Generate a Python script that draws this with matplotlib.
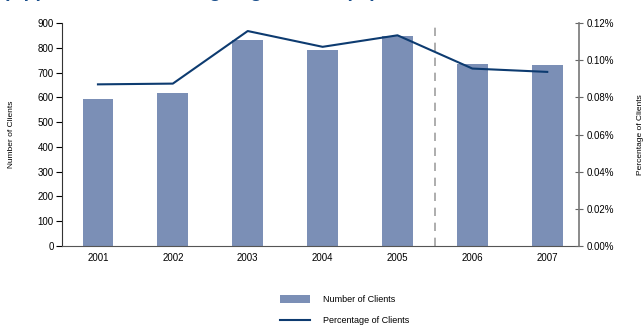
import numpy as np
import matplotlib
matplotlib.use("Agg")
import matplotlib.pyplot as plt
from matplotlib.ticker import FuncFormatter

plt.rcParams['font.family'] = ['Liberation Sans Narrow', 'Liberation Sans', 'DejaVu Sans']

# Clients by year
years = ['2001', '2002', '2003', '2004', '2005', '2006', '2007']
num_clients = [595, 619, 830, 793, 846, 733, 729]
pct_clients = [0.0870, 0.0874, 0.1157, 0.1072, 0.1134, 0.0955, 0.0937]  # percent

bar_color = '#7b8fb6'
line_color = '#0d3b70'

fig = plt.figure(figsize=(6.44, 3.25), dpi=100)
ax = fig.add_axes([0.0963, 0.2431, 0.8023, 0.6860])

x = np.arange(len(years))
bars = ax.bar(x, num_clients, width=0.41, color=bar_color, label='Number of Clients', zorder=2)
ax.set_xlim(-0.48, len(years) - 0.58)
ax.set_ylim(0, 900)
ax.set_yticks(range(0, 901, 100))
ax.set_xticks(x)
ax.set_xticklabels(years)
ax.tick_params(axis='x', length=0, labelsize=7, pad=5)
ax.tick_params(axis='y', length=4, direction='out', labelsize=7, pad=2)
ax.spines['top'].set_visible(False)
ax.spines['right'].set_visible(False)
ax.spines['left'].set_color('#333333')
ax.spines['bottom'].set_color('#555555')
ax.set_ylabel('Number of Clients', fontsize=6, labelpad=16)

# split between years
ax.axvline(4.5, color='#a0a0a0', linestyle=(0, (5, 4)), linewidth=1.2, zorder=1)

ax2 = ax.twinx()
line, = ax2.plot(x, pct_clients, color=line_color, linewidth=1.5, label='Percentage of Clients', zorder=3)
ax2.set_ylim(0, 0.12)
ax2.set_yticks(np.arange(0, 0.121, 0.02))
ax2.yaxis.set_major_formatter(FuncFormatter(lambda v, p: '%.2f%%' % v))
ax2.tick_params(axis='y', length=6, direction='inout', labelsize=7, pad=3, color='#666666')
for s in ['top', 'left', 'bottom']:
    ax2.spines[s].set_visible(False)
ax2.spines['right'].set_color('#777777')
ax2.spines['right'].set_linewidth(1.2)
ax2.set_ylabel('Percentage of Clients', fontsize=6, labelpad=16)

fig.legend(handles=[bars, line], loc='center', bbox_to_anchor=(0.535, 0.046),
           frameon=False, fontsize=6.5, handlelength=3.3, handleheight=1.1,
           labelspacing=1.3, handletextpad=1.4)

# heading sits above the top edge, only its descenders show
fig.text(0.004, 1.008, '(Apportionment Among Eligible Groups)', fontsize=14, fontweight='bold',
         color='#1a4f8c', ha='left', va='baseline')

fig.savefig('out.png', dpi=100)
